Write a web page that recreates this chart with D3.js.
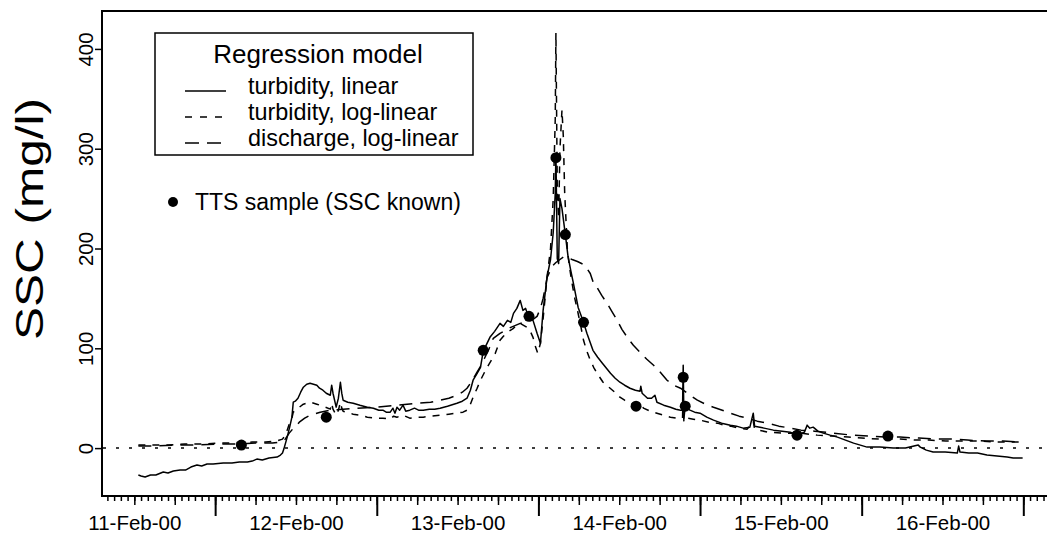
<!DOCTYPE html>
<html>
<head>
<meta charset="utf-8">
<script src="https://cdn.jsdelivr.net/npm/d3@7"></script>
<style>
  body { margin: 0; background: #fff; }
  svg { font-family: "Liberation Sans", Arial, Helvetica, sans-serif; }
</style>
</head>
<body>
<svg id="chart" width="1047" height="534"></svg>
<script>
// hours since 11-Feb-00 00:00, SSC in mg/l
var turbLinear = [[12.6,-27],[13.0,-28],[13.6,-29],[14.4,-27],[15.2,-27],[16.3,-24],[17.0,-25],[17.8,-23],[18.8,-22],[19.6,-22],[20.4,-19],[21.3,-17],[22.0,-18],[22.8,-16],[23.7,-16],[25.2,-15],[26.5,-15],[27.6,-14],[28.8,-14],[29.5,-13],[30.2,-11],[31.0,-12],[32.0,-10],[33.2,-9],[33.7,-7],[34.0,-5],[34.2,-1],[34.7,11],[35.1,22],[35.4,31],[35.6,46],[35.9,47],[36.3,50],[36.7,56],[37.1,61],[37.6,64],[38.1,65],[38.6,64],[39.1,63],[39.5,60],[40.0,58],[40.5,55],[41.1,53],[41.3,63],[41.5,55],[41.97,41],[42.3,50],[42.6,66],[42.8,55],[43.0,48],[43.7,46],[44.5,45],[45.5,43],[46.6,41],[47.5,40],[48.3,38],[48.9,38],[49.4,36],[50.0,36],[50.4,40],[50.7,35],[51.0,41],[51.4,38],[51.9,43],[52.3,37],[52.9,38],[53.6,40],[54.2,38],[54.9,38],[55.8,39],[56.6,39],[57.4,40],[58.5,42],[59.9,45],[60.7,47],[61.4,50],[61.9,58],[62.3,68],[62.9,75],[63.4,81],[63.8,97],[64.3,104],[64.8,111],[65.5,117],[66.3,125],[66.8,122],[67.4,128],[67.9,126],[68.3,135],[68.8,140],[69.3,148],[69.7,138],[70.1,140],[70.5,132],[71.2,128],[71.8,115],[72.3,105],[72.7,138],[73.3,172],[73.8,189],[74.2,216],[74.5,255],[74.6,295],[74.8,190],[75.0,185],[75.2,250],[75.5,240],[76.0,214],[76.4,192],[76.8,178],[77.2,165],[77.9,141],[78.7,126],[79.2,115],[80.1,98],[80.8,91],[81.5,85],[82.1,80],[82.7,75],[83.4,70],[84.1,66],[84.8,63],[85.6,60],[86.4,58],[87.1,57],[87.2,62],[87.4,55],[88.2,50],[88.8,50],[89.3,53],[89.6,46],[90.6,43],[91.6,41],[92.4,39],[93.1,38],[93.4,38],[93.5,83],[93.6,30],[93.8,41],[94.5,38],[95.2,36],[96.0,35],[97.0,31],[98.0,28],[99.2,25],[100.5,23],[101.4,22],[102.4,20],[103.4,21],[103.9,35],[104.1,22],[105.5,20],[106.9,18],[108.2,17],[109.4,16],[110.4,13],[111.5,16],[111.9,23],[112.3,20],[112.8,21],[113.5,17],[114.3,15],[115.3,13],[116.4,11],[117.6,8],[118.8,5],[119.8,3],[120.8,1],[122.7,1],[124.7,0],[126.5,0],[128.4,3],[128.7,1],[129.6,-2],[130.6,-4],[132.4,-4],[134.2,-5],[134.4,2],[134.6,-4],[135.9,-5],[137.2,-5],[138.6,-7],[140.1,-8],[141.6,-9],[142.5,-10],[143.9,-10]];

var turbLog = [[12.6,3],[14.5,3],[17.0,3],[19.5,4],[22.0,4],[24.5,5],[27.0,5],[29.5,6],[31.5,6],[33.0,7],[34.0,9],[34.5,14],[35.0,24],[35.4,30],[35.6,36],[36.3,40],[37.1,44],[38.1,46],[39.1,44],[40.0,42],[41.1,39],[41.3,45],[41.5,39],[41.97,33],[42.3,38],[42.6,46],[42.8,40],[43.0,37],[44.5,34],[45.5,33],[46.6,31],[47.8,30],[48.9,30],[50.0,29],[50.5,32],[51.0,31],[51.9,33],[52.9,30],[54.0,31],[54.9,31],[56.0,32],[57.4,33],[58.7,34],[59.9,35],[60.8,36],[61.4,38],[61.9,44],[62.3,51],[62.9,60],[63.4,68],[64.0,76],[64.4,81],[65.0,88],[65.6,95],[66.3,108],[66.8,112],[67.4,116],[68.3,120],[68.8,124],[69.3,125],[69.8,123],[70.3,121],[70.8,117],[71.2,111],[71.5,103],[71.9,95],[72.3,105],[72.7,130],[73.3,172],[73.8,200],[74.2,250],[74.5,330],[74.6,416],[74.8,260],[75.0,230],[75.2,300],[75.5,339],[75.7,312],[75.9,256],[76.3,199],[76.6,182],[77.0,165],[77.4,150],[77.8,138],[78.3,122],[78.7,108],[79.2,97],[79.7,88],[80.2,81],[80.7,75],[81.6,66],[82.3,62],[83.0,58],[83.5,55],[84.1,51],[84.8,48],[85.6,45],[86.5,42],[87.2,44],[87.6,40],[88.6,37],[89.6,35],[90.6,33],[91.6,31],[92.5,30],[93.4,30],[93.5,60],[93.6,26],[94.1,30],[95.0,29],[96.0,28],[97.3,26],[98.6,25],[99.5,23],[100.5,22],[101.7,20],[103.0,19],[103.9,27],[104.1,19],[106.0,16],[108.4,15],[110.9,15],[113.4,13],[115.8,12],[118.0,11],[120.0,10],[122.8,9],[125.7,9],[128.0,8],[130.0,8],[132.5,7],[135.0,7],[137.5,7],[140.0,6],[142.0,6],[143.9,6]];

var dischargeLog = [[12.6,2],[15,2],[18,3],[21,3],[24,4],[27,4],[30,5],[32.5,5],[33.5,6],[34.3,8],[35.0,15],[35.5,19],[36.0,22],[36.5,26],[37.3,30],[38.1,33],[39.6,36],[41.1,38],[43.0,39],[45.0,40],[48.0,41],[51.0,43],[54.0,45],[56.0,46],[57.4,48],[58.7,50],[59.9,53],[60.7,56],[61.4,60],[62.1,67],[62.8,75],[63.4,82],[64.0,90],[64.7,100],[65.3,110],[66.3,115],[67.1,118],[67.9,121],[68.6,123],[69.3,125],[70.5,127],[71.2,129],[71.8,132],[72.3,140],[72.7,150],[73.3,171],[73.7,177],[74.0,182],[74.6,186],[75.2,189],[75.8,192],[76.3,191],[77.0,189],[77.8,187],[78.7,184],[79.2,180],[79.7,175],[80.2,165],[80.7,161],[81.4,153],[82.2,145],[82.9,137],[83.7,128],[84.4,119],[85.2,111],[86.1,103],[87.1,96],[88.1,89],[89.1,83],[90.1,76],[91.1,68],[92.1,63],[93.1,60],[94.3,54],[95.6,48],[96.8,44],[98.0,41],[99.3,38],[100.5,35],[101.8,32],[103.0,30],[104.5,27],[106.0,25],[107.7,22],[109.4,20],[111.0,18],[113.0,17],[115.8,15],[118.5,13],[121.0,12],[123.5,11],[125.7,11],[128.5,10],[131.0,9],[133.5,9],[135.7,8],[138.5,7],[141.0,7],[143.9,6]];

var sampleHours = [27.9, 40.5, 63.8, 70.6, 74.6, 76.0, 78.7, 86.5, 93.5, 93.8, 110.4, 123.9];
var sampleSSC = [3, 31, 98, 132, 291, 214, 126, 42, 71, 42, 13, 12];

var yTicks = [0, 100, 200, 300, 400];
var legendTitle = "Regression model";
var legendLabels = ["turbidity, linear", "turbidity, log-linear", "discharge, log-linear"];
var sampleLabel = "TTS sample (SSC known)";

var start = Date.UTC(2000, 1, 11);
function toDate(h) { return new Date(start + h * 3600 * 1000); }

var plotLeft = 102, plotRight = 1059, plotTop = 11, plotBottom = 496;
var svg = d3.select("#chart");

var x = d3.scaleUtc().domain([toDate(7.2), toDate(149.3)]).range([plotLeft, plotRight]);
var y = d3.scaleLinear().domain([-48, 438]).range([plotBottom, plotTop]);

// zero reference line
svg.append("line")
    .attr("x1", plotLeft).attr("x2", plotRight)
    .attr("y1", y(0)).attr("y2", y(0))
    .attr("stroke", "#000").attr("stroke-width", 1.5)
    .attr("stroke-dasharray", "3,10").attr("stroke-dashoffset", -14);

var line = d3.line()
    .x(function(d) { return x(toDate(d[0])); })
    .y(function(d) { return y(d[1]); });

var series = [
    {data: turbLinear, dash: null},
    {data: turbLog, dash: "7,7"},
    {data: dischargeLog, dash: "13,8"}
];
series.forEach(function(s) {
    svg.append("path")
        .attr("d", line(s.data))
        .attr("fill", "none")
        .attr("stroke", "#000")
        .attr("stroke-width", 1.5)
        .attr("stroke-linejoin", "round")
        .attr("stroke-dasharray", s.dash);
});

svg.selectAll("circle.sample")
    .data(sampleHours)
    .enter().append("circle")
    .attr("class", "sample")
    .attr("cx", function(d) { return x(toDate(d)); })
    .attr("cy", function(d, i) { return y(sampleSSC[i]); })
    .attr("r", 5.5)
    .attr("fill", "#000");

// box: left, top and bottom
svg.append("path")
    .attr("d", "M" + plotRight + "," + plotTop + " H" + plotLeft + " V" + plotBottom + " H" + plotRight)
    .attr("fill", "none").attr("stroke", "#000").attr("stroke-width", 2);

// x axis: hourly, 6-hourly and daily ticks, labels at noon
function xAxis(every, size) {
    var g = svg.append("g").attr("transform", "translate(0," + plotBottom + ")")
        .call(d3.axisBottom(x).ticks(every).tickSize(size).tickFormat(""));
    g.select(".domain").remove();
    g.selectAll("line").attr("stroke-width", 1.5);
    return g;
}
xAxis(d3.utcHour.every(1), 5);
xAxis(d3.utcHour.every(6), 9);
xAxis(d3.utcDay.every(1), 20).selectAll("line").attr("stroke-width", 2);

var noonTicks = d3.range(0, 6).map(function(d) { return toDate(12 + 24 * d); });
var xl = svg.append("g").attr("transform", "translate(0," + plotBottom + ")")
    .call(d3.axisBottom(x).tickValues(noonTicks).tickSize(0).tickPadding(19)
        .tickFormat(d3.utcFormat("%d-%b-%y")));
xl.select(".domain").remove();
xl.selectAll("text").attr("font-size", 20.5).attr("font-family", null);

// y axis
var ya = svg.append("g").attr("transform", "translate(" + plotLeft + ",0)")
    .call(d3.axisLeft(y).tickValues(yTicks).tickSize(7));
ya.select(".domain").remove();
ya.selectAll("line").attr("stroke-width", 1.5);
ya.selectAll("text")
    .attr("font-size", 20.5).attr("font-family", null)
    .attr("text-anchor", "middle")
    .attr("transform", "rotate(-90)")
    .attr("x", 0).attr("y", -9).attr("dy", 0);

svg.append("text")
    .attr("transform", "translate(43,219) rotate(-90)")
    .attr("text-anchor", "middle")
    .attr("font-size", 39)
    .attr("textLength", 242)
    .attr("lengthAdjust", "spacingAndGlyphs")
    .text("SSC (mg/l)");

// legend
var lg = svg.append("g");
lg.append("rect").attr("x", 155).attr("y", 33).attr("width", 318).attr("height", 122)
    .attr("fill", "#fff").attr("stroke", "#000").attr("stroke-width", 1.5);
lg.append("text").attr("x", 318).attr("y", 63).attr("text-anchor", "middle")
    .attr("font-size", 26).text(legendTitle);
var legendDash = [null, "7,8", "14,8"];
legendLabels.forEach(function(lab, i) {
    var yy = 91 + i * 26;
    lg.append("line").attr("x1", 185).attr("x2", 226).attr("y1", yy).attr("y2", yy)
        .attr("stroke", "#000").attr("stroke-width", 1.5)
        .attr("stroke-dasharray", legendDash[i]);
    lg.append("text").attr("x", 248).attr("y", yy + 3).attr("font-size", 23.4).text(lab);
});
lg.append("circle").attr("cx", 173).attr("cy", 202).attr("r", 5).attr("fill", "#000");
lg.append("text").attr("x", 195).attr("y", 210).attr("font-size", 23).text(sampleLabel);
</script>
</body>
</html>
